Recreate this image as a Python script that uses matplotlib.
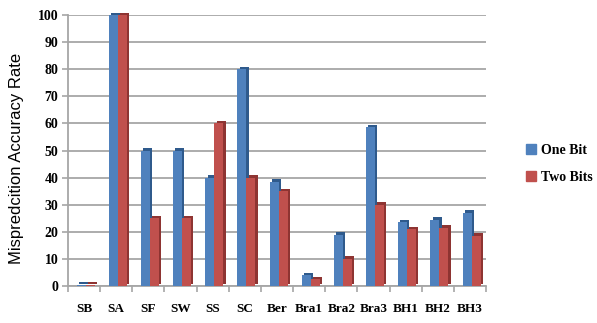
import numpy as np
import matplotlib.pyplot as plt
from matplotlib.lines import Line2D

# Misprediction accuracy per benchmark for the two predictor schemes
benchmarks = ['SB', 'SA', 'SF', 'SW', 'SS', 'SC', 'Ber', 'Bra1', 'Bra2', 'Bra3', 'BH1', 'BH2', 'BH3']
one_bit = [0.5, 100, 50, 50, 40, 80, 38.5, 4, 19, 58.5, 23.5, 24.5, 27]
two_bits = [0.5, 100, 25, 25, 60, 40, 35, 2.5, 10, 30, 21, 21.5, 18.5]
yticks = [0, 10, 20, 30, 40, 50, 60, 70, 80, 90, 100]

blue, blue_side = '#4F81BD', '#2F5A8C'
red, red_side = '#C0504D', '#8E3432'
grid_col = '#A6A6A6'

fig = plt.figure(figsize=(5.97, 3.23), dpi=100)
ax = fig.add_axes([68 / 597, 37 / 323, 418 / 597, 271 / 323])

x = np.arange(len(benchmarks))
w = 0.28
dx, dy = 0.07, 0.9  # fake depth of the 3d columns

# darker shifted copies give the side/top faces, front faces drawn on top
ax.bar(x - w / 2 + dx + 0.05, one_bit, w, bottom=dy, color=blue_side, zorder=2, clip_on=False)
ax.bar(x - w / 2 + 0.05, one_bit, w, color=blue, zorder=3, clip_on=False)
ax.bar(x + w / 2 + dx + 0.05, two_bits, w, bottom=dy, color=red_side, zorder=2, clip_on=False)
ax.bar(x + w / 2 + 0.05, two_bits, w, color=red, zorder=3, clip_on=False)

ax.set_xlim(-0.5, len(benchmarks) - 0.5)
ax.set_ylim(0, 100)
ax.set_yticks(yticks)
ax.set_yticklabels([str(t) for t in yticks], fontfamily='Liberation Serif',
                   fontweight='bold', fontsize=10)
ax.yaxis.grid(True, color=grid_col, linewidth=1.3, zorder=0)
ax.set_axisbelow(True)

ax.set_xticks(x)
ax.set_xticklabels(benchmarks, fontfamily='Liberation Serif', fontweight='bold', fontsize=9.5)
ax.set_xticks(np.arange(-0.5, len(benchmarks)), minor=True)
ax.tick_params(axis='x', which='major', length=0, pad=12)
ax.tick_params(axis='x', which='minor', length=4, color=grid_col, width=1.2)
ax.tick_params(axis='y', length=4, color=grid_col, width=1.2, pad=3)

for side in ['top', 'right']:
    ax.spines[side].set_visible(False)
for side in ['left', 'bottom']:
    ax.spines[side].set_color(grid_col)
    ax.spines[side].set_linewidth(1.3)

ax.set_ylabel('Mispredcition Accuracy Rate', fontfamily='Liberation Sans',
              fontsize=12, labelpad=3)
ax.yaxis.set_label_coords(-0.105, 0.47)

handles = [Line2D([], [], marker='s', linestyle='none', markersize=7, color=blue),
           Line2D([], [], marker='s', linestyle='none', markersize=7, color=red)]
fig.legend(handles, ['One Bit', 'Two Bits'], loc='center left',
           bbox_to_anchor=(510 / 597, 1 - 164 / 323), frameon=False,
           prop={'family': 'Liberation Serif', 'weight': 'bold', 'size': 10},
           handletextpad=0.1, labelspacing=1.0, handlelength=1.2)

fig.savefig('out.png', dpi=100)
